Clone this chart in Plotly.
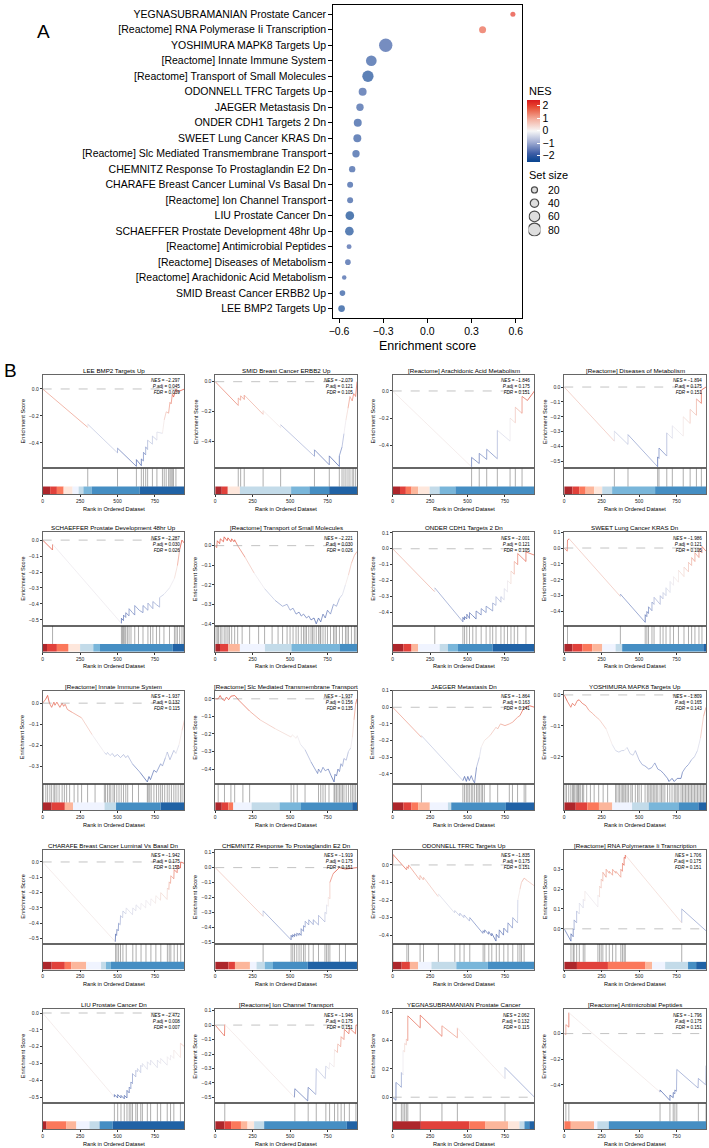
import plotly.graph_objects as go
from plotly.colors import sample_colorscale

W, H = 709, 1148
FONT = "Liberation Sans, Arial, Helvetica, sans-serif"

# %% Panel A data (top to bottom)
dot_terms = [
    "YEGNASUBRAMANIAN Prostate Cancer",
    "[Reactome] RNA Polymerase Ii Transcription",
    "YOSHIMURA MAPK8 Targets Up",
    "[Reactome] Innate Immune System",
    "[Reactome] Transport of Small Molecules",
    "ODONNELL TFRC Targets Up",
    "JAEGER Metastasis Dn",
    "ONDER CDH1 Targets 2 Dn",
    "SWEET Lung Cancer KRAS Dn",
    "[Reactome] Slc Mediated Transmembrane Transport",
    "CHEMNITZ Response To Prostaglandin E2 Dn",
    "CHARAFE Breast Cancer Luminal Vs Basal Dn",
    "[Reactome] Ion Channel Transport",
    "LIU Prostate Cancer Dn",
    "SCHAEFFER Prostate Development 48hr Up",
    "[Reactome] Antimicrobial Peptides",
    "[Reactome] Diseases of Metabolism",
    "[Reactome] Arachidonic Acid Metabolism",
    "SMID Breast Cancer ERBB2 Up",
    "LEE BMP2 Targets Up",
]
dot_es = [0.581, 0.375, -0.283, -0.381, -0.404, -0.44, -0.458, -0.473, -0.476, -0.485,
          -0.511, -0.525, -0.525, -0.527, -0.53, -0.532, -0.54, -0.565, -0.577, -0.583]
dot_nes = [2.062, 1.706, -1.809, -1.937, -2.221, -1.835, -1.864, -2.001, -1.986, -1.937,
           -1.919, -1.942, -1.946, -2.472, -2.287, -1.796, -1.894, -1.846, -2.079, -2.297]
dot_size = [11, 28, 83, 60, 65, 36, 31, 36, 36, 31, 22, 19, 19, 42, 42, 10, 16, 6, 16, 25]
size_keys = [20, 40, 60, 80]

# %% Panel B data: running enrichment score, hits, rank colour blocks
lee_x = [0, 301, 301, 500, 500, 626, 626, 659, 659, 673, 673, 688, 688, 701, 701, 733, 733, 763, 763, 800, 812, 825, 841, 850, 858, 866, 874, 890, 905, 947]
lee_y = [0, -0.285, -0.262, -0.475, -0.44, -0.575, -0.525, -0.57, -0.52, -0.535, -0.47, -0.49, -0.43, -0.45, -0.38, -0.41, -0.35, -0.38, -0.32, -0.33, -0.23, -0.17, -0.18, -0.1, -0.11, -0.04, -0.06, 0.0, -0.02, 0.0]
lee_hits = [301, 500, 626, 659, 673, 688, 701, 733, 763, 800, 812, 825, 841, 850, 858, 866, 874, 890, 947]
lee_edges = [0, 50, 95, 140, 200, 240, 272, 327, 648, 947]
lee_cols = [9, 8, 7, 5, 4, 3, 2, 1, 0]

smid_x = [0, 154, 154, 170, 170, 194, 194, 320, 320, 437, 437, 663, 663, 762, 762, 829, 829, 847, 860, 873, 887, 900, 915, 925, 938, 947]
smid_y = [0, -0.16, -0.11, -0.125, -0.095, -0.12, -0.09, -0.22, -0.195, -0.31, -0.29, -0.503, -0.459, -0.56, -0.5, -0.571, -0.5, -0.44, -0.35, -0.26, -0.18, -0.1, -0.13, -0.08, -0.1, 0.0]
smid_hits = [154, 170, 194, 320, 437, 663, 762, 829, 847, 860, 873, 887, 900, 915, 925, 938]
smid_edges = [0, 44, 84, 165, 507, 629, 761, 947]
smid_cols = [9, 8, 5, 3, 2, 1, 0]

ara_x = [0, 527, 527, 578, 578, 628, 628, 699, 699, 784, 784, 819, 819, 864, 864, 900, 947]
ara_y = [0, -0.56, -0.49, -0.535, -0.46, -0.505, -0.43, -0.5, -0.29, -0.37, -0.2, -0.235, -0.12, -0.165, -0.04, -0.07, 0.0]
ara_hits = [527, 578, 628, 699, 784, 819, 864]
ara_edges = [0, 49, 88, 126, 170, 247, 313, 419, 947]
ara_cols = [9, 8, 7, 6, 5, 3, 2, 1]

dis_x = [0, 335, 335, 426, 426, 624, 624, 633, 633, 685, 685, 722, 722, 795, 795, 841, 841, 883, 883, 916, 916, 947]
dis_y = [0, -0.364, -0.297, -0.386, -0.32, -0.536, -0.47, -0.48, -0.41, -0.464, -0.308, -0.345, -0.26, -0.33, -0.2, -0.245, -0.15, -0.19, -0.08, -0.11, -0.02, 0.0]
dis_hits = [335, 426, 624, 633, 685, 722, 795, 841, 883, 916]
dis_edges = [0, 55, 100, 143, 200, 254, 320, 607, 947]
dis_cols = [9, 8, 7, 6, 5, 3, 2, 1]

sch_x = [0, 66, 66, 526, 526, 540, 540, 555, 555, 577, 577, 600, 615, 615, 645, 670, 670, 703, 703, 736, 736, 760, 781, 781, 810, 847, 880, 900, 915, 930, 947]
sch_y = [0, -0.062, -0.025, -0.522, -0.49, -0.505, -0.47, -0.485, -0.455, -0.475, -0.43, -0.455, -0.47, -0.41, -0.44, -0.455, -0.41, -0.44, -0.395, -0.43, -0.385, -0.405, -0.42, -0.36, -0.34, -0.30, -0.24, -0.16, -0.06, 0.0, -0.02]
sch_hits = [66, 526, 533, 540, 548, 555, 566, 577, 590, 615, 640, 670, 703, 720, 736, 760, 781, 810, 847, 880, 890, 900, 915, 930, 940]
sch_edges = [0, 29, 95, 173, 250, 338, 383, 869, 947]
sch_cols = [9, 8, 7, 5, 3, 2, 1, 0]

tra_x = [0, 10, 14, 30, 34, 55, 60, 80, 85, 105, 110, 125, 130, 150, 200, 260, 330, 400, 450, 480,
         500, 520, 540, 560, 575, 590, 610, 625, 640, 660, 675, 690, 705, 720, 735, 750, 770, 790, 810, 830,
         850, 870, 890, 910, 930, 947]
tra_y = [0, -0.01, 0.025, 0.01, 0.035, 0.02, 0.045, 0.025, 0.04, 0.02, 0.035, 0.02, 0.03, 0.0, -0.06, -0.14, -0.22, -0.28, -0.31, -0.30,
         -0.33, -0.32, -0.35, -0.34, -0.36, -0.35, -0.37, -0.36, -0.38, -0.37, -0.40, -0.37, -0.39, -0.35, -0.37, -0.33, -0.35, -0.30, -0.31, -0.27,
         -0.25, -0.2, -0.15, -0.09, -0.05, -0.03]
tra_hits = [5, 14, 22, 34, 45, 60, 72, 85, 95, 110, 130, 150, 180, 230, 290, 330, 380, 420, 450, 480, 500, 520, 540, 555, 575,
            590, 600, 610, 625, 640, 650, 660, 675, 690, 700, 705, 720, 735, 750, 770, 790, 800, 810, 830, 850, 870, 880, 890, 910, 930, 940]
tra_edges = [0, 32, 88, 165, 332, 509, 830, 947]
tra_cols = [9, 8, 6, 4, 3, 2, 1]

ond_x = [0, 281, 281, 469, 469, 480, 480, 495, 495, 513, 513, 535, 557, 557, 591, 591, 624, 624, 668, 668,
         690, 690, 723, 723, 745, 745, 767, 767, 790, 790, 812, 812, 835, 835, 890, 890, 947]
ond_y = [0, -0.27, -0.245, -0.458, -0.43, -0.445, -0.425, -0.44, -0.41, -0.437, -0.40, -0.42, -0.44, -0.39, -0.415, -0.375, -0.40, -0.36, -0.39, -0.34,
         -0.355, -0.30, -0.335, -0.30, -0.32, -0.25, -0.27, -0.2, -0.22, -0.14, -0.16, -0.08, -0.1, -0.03, -0.08, -0.02, -0.04]
ond_hits = [281, 469, 480, 495, 513, 535, 557, 591, 624, 650, 668, 690, 723, 745, 767, 790, 812, 835, 890]
ond_edges = [0, 71, 126, 170, 314, 369, 436, 668, 947]
ond_cols = [9, 8, 6, 4, 3, 2, 1, 0]

swe_x = [0, 20, 22, 33, 375, 375, 541, 541, 552, 552, 563, 563, 586, 586, 600, 600, 641, 641, 660, 660,
         680, 680, 707, 707, 730, 730, 763, 763, 800, 800, 830, 830, 851, 851, 873, 873, 900, 900, 920, 920, 947]
swe_y = [0, -0.02, 0.05, 0.058, -0.305, -0.29, -0.468, -0.42, -0.432, -0.40, -0.412, -0.37, -0.395, -0.34, -0.355, -0.31, -0.355, -0.30, -0.32, -0.28,
         -0.30, -0.25, -0.28, -0.21, -0.235, -0.18, -0.215, -0.14, -0.18, -0.12, -0.15, -0.09, -0.11, -0.06, -0.085, -0.03, -0.06, -0.01, -0.03, 0.01, -0.02]
swe_hits = [22, 375, 541, 552, 563, 586, 600, 641, 660, 680, 707, 730, 763, 800, 830, 851, 873, 900, 920]
swe_edges = [0, 55, 122, 188, 254, 343, 387, 929, 947]
swe_cols = [9, 8, 7, 6, 4, 3, 1, 0]

inn_x = [0, 21, 33, 45, 60, 75, 82, 95, 115, 130, 140, 150, 165, 200, 260, 330, 412, 425, 433, 450,
         465, 480, 500, 520, 540, 555, 568, 600, 650, 699, 710, 720, 743, 760, 788, 800, 820, 832, 850, 876,
         890, 910, 931, 947]
inn_y = [0, 0.02, 0.037, 0.0, -0.02, 0.005, -0.01, 0.005, -0.02, 0.0, -0.015, -0.005, -0.03, -0.045, -0.07, -0.15, -0.235, -0.245, -0.235, -0.25,
         -0.24, -0.255, -0.245, -0.26, -0.245, -0.26, -0.25, -0.29, -0.33, -0.376, -0.35, -0.365, -0.32, -0.33, -0.289, -0.3, -0.26, -0.233, -0.27, -0.225,
         -0.24, -0.2, -0.13, -0.08]
inn_hits = [5, 21, 33, 48, 60, 75, 82, 95, 110, 130, 145, 160, 180, 210, 235, 260, 300, 350, 412, 420, 433, 445, 455, 470, 480, 495,
            510, 525, 540, 555, 568, 600, 640, 699, 705, 715, 725, 743, 760, 775, 788, 800, 815, 832, 845, 860, 876, 890, 905, 920, 931, 945]
inn_edges = [0, 60, 148, 203, 413, 490, 788, 947]
inn_cols = [9, 8, 6, 4, 3, 1, 0]

slc_x = [0, 20, 33, 45, 62, 75, 90, 105, 130, 140, 160, 230, 300, 400, 507, 515, 540, 548, 570, 600,
         640, 684, 690, 705, 720, 735, 755, 775, 794, 800, 810, 820, 830, 840, 850, 860, 875, 890, 905, 916,
         927, 938, 947]
slc_y = [0, 0.0, 0.019, 0.0, -0.01, 0.01, -0.005, 0.015, 0.019, 0.01, -0.01, -0.07, -0.12, -0.17, -0.218, -0.205, -0.225, -0.21, -0.26, -0.29,
         -0.36, -0.426, -0.40, -0.42, -0.39, -0.41, -0.40, -0.44, -0.474, -0.43, -0.44, -0.40, -0.415, -0.37, -0.385, -0.34, -0.35, -0.30, -0.28, -0.22,
         -0.12, -0.03, 0.0]
slc_hits = [20, 62, 105, 130, 185, 230, 507, 525, 548, 600, 690, 705, 720, 735, 760, 794, 800, 810, 820, 830, 840, 850, 860, 875, 890, 905, 916, 927, 938]
slc_edges = [0, 44, 88, 121, 243, 430, 573, 915, 947]
slc_cols = [9, 8, 7, 4, 3, 2, 1, 0]

jae_x = [0, 192, 192, 469, 480, 492, 502, 512, 525, 535, 547, 560, 579, 591, 612, 650, 690, 701, 720, 750,
         779, 800, 834, 850, 878, 889, 912, 947]
jae_y = [0, -0.18, -0.17, -0.44, -0.415, -0.445, -0.415, -0.44, -0.41, -0.435, -0.454, -0.36, -0.3, -0.24, -0.2, -0.17, -0.12, -0.13, -0.1, -0.11,
         -0.1, -0.09, -0.06, -0.05, 0.0, 0.0, 0.01, 0.0]
jae_hits = [192, 469, 480, 492, 502, 512, 525, 535, 547, 560, 570, 579, 591, 600, 612, 650, 701, 779, 800, 834, 878, 889]
jae_edges = [0, 71, 126, 170, 248, 369, 391, 756, 947]
jae_cols = [9, 8, 7, 6, 4, 3, 1, 0]

yos_x = [0, 20, 44, 55, 70, 88, 100, 120, 145, 165, 190, 210, 235, 280, 320, 343, 365, 385, 400, 420,
         440, 460, 475, 500, 520, 540, 565, 585, 605, 625, 645, 665, 690, 700, 720, 735, 755, 780, 790, 810,
         830, 850, 870, 890, 910, 930, 947]
yos_y = [0, -0.02, -0.04, -0.027, -0.035, -0.018, -0.016, -0.027, -0.035, -0.05, -0.06, -0.07, -0.08, -0.11, -0.16, -0.18, -0.185, -0.18, -0.18, -0.17,
         -0.19, -0.195, -0.18, -0.21, -0.225, -0.23, -0.24, -0.235, -0.22, -0.24, -0.245, -0.255, -0.27, -0.28, -0.27, -0.28, -0.27, -0.27, -0.25, -0.235,
         -0.225, -0.21, -0.2, -0.18, -0.14, -0.07, -0.04]
yos_hits = [5, 15, 30, 44, 55, 62, 70, 80, 88, 95, 100, 110, 122, 130, 150, 175, 200, 230, 260, 290, 343, 352, 365, 372, 385, 392, 400,
            410, 420, 430, 445, 455, 475, 490, 500, 515, 540, 555, 565, 575, 585, 595, 605, 615, 625, 640, 650, 660, 672, 690, 705,
            720, 735, 745, 755, 765, 780, 790, 800, 810, 820, 830, 840, 850, 860, 870, 880, 890, 900, 910, 920, 930, 940]
yos_edges = [0, 77, 154, 232, 321, 453, 564, 763, 896, 947]
yos_cols = [9, 8, 7, 6, 4, 3, 2, 1, 0]

cha_x = [0, 485, 487, 494, 496, 505, 507, 518, 520, 534, 536, 556, 558, 600, 602, 622, 624, 655, 657, 688,
         690, 721, 723, 754, 756, 787, 789, 831, 833, 843, 845, 854, 856, 876, 878, 898, 900, 920, 922, 947]
cha_y = [0, -0.521, -0.47, -0.48, -0.44, -0.45, -0.40, -0.41, -0.35, -0.365, -0.32, -0.34, -0.30, -0.345, -0.30, -0.32, -0.28, -0.31, -0.27, -0.30,
         -0.25, -0.285, -0.24, -0.27, -0.22, -0.25, -0.2, -0.245, -0.17, -0.18, -0.13, -0.14, -0.09, -0.11, -0.05, -0.07, -0.02, -0.04, 0.0, -0.01]
cha_hits = [487, 496, 507, 520, 536, 558, 602, 624, 657, 690, 723, 756, 789, 833, 845, 856, 878, 900, 922]
cha_edges = [0, 60, 148, 192, 291, 390, 423, 456, 947]
cha_cols = [9, 8, 7, 6, 4, 3, 2, 1]

che_x = [0, 320, 320, 507, 507, 518, 518, 530, 530, 545, 545, 560, 560, 574, 574, 590, 590, 601, 601, 625,
         625, 655, 655, 690, 690, 733, 733, 744, 744, 755, 755, 766, 766, 788, 830, 870, 947]
che_y = [0, -0.327, -0.29, -0.485, -0.455, -0.467, -0.45, -0.463, -0.445, -0.46, -0.44, -0.455, -0.44, -0.455, -0.41, -0.428, -0.39, -0.40, -0.36, -0.385,
         -0.35, -0.383, -0.35, -0.385, -0.32, -0.365, -0.30, -0.31, -0.25, -0.26, -0.2, -0.21, -0.1, -0.04, 0.0, -0.01, 0.0]
che_hits = [320, 507, 518, 530, 545, 560, 574, 590, 601, 625, 655, 690, 733, 744, 755, 766, 830, 870]
che_edges = [0, 88, 132, 232, 276, 331, 386, 618, 947]
che_cols = [9, 8, 6, 4, 3, 2, 1, 0]

odo_x = [0, 2, 93, 95, 104, 106, 181, 183, 204, 206, 303, 305, 413, 415, 447, 449, 475, 477, 513, 515,
         602, 604, 613, 615, 640, 642, 660, 662, 690, 692, 710, 712, 740, 742, 768, 770, 800, 802, 834, 836,
         850, 860, 878, 900, 947]
odo_y = [0, 0.06, -0.028, -0.01, -0.02, 0.0, -0.085, -0.06, -0.085, -0.07, -0.18, -0.165, -0.273, -0.26, -0.29, -0.275, -0.30, -0.285, -0.32, -0.30,
         -0.39, -0.375, -0.385, -0.37, -0.395, -0.38, -0.405, -0.39, -0.434, -0.395, -0.415, -0.37, -0.40, -0.36, -0.385, -0.33, -0.36, -0.30, -0.33, -0.2,
         -0.14, -0.1, -0.075, -0.09, -0.12]
odo_hits = [2, 95, 106, 183, 206, 305, 415, 449, 477, 515, 604, 615, 642, 662, 692, 712, 742, 770, 802, 836, 850, 860, 878]
odo_edges = [0, 60, 115, 170, 259, 425, 635, 947]
odo_cols = [9, 8, 6, 4, 3, 2, 1]

rna_x = [0, 45, 45, 60, 60, 66, 66, 83, 83, 101, 101, 127, 127, 138, 138, 225, 225, 236, 236, 247,
         247, 258, 258, 280, 280, 301, 301, 323, 323, 345, 345, 378, 378, 389, 389, 400, 400, 408, 408, 785,
         785, 947]
rna_y = [0, -0.062, -0.025, -0.04, 0.0, -0.005, 0.045, 0.03, 0.09, 0.075, 0.13, 0.105, 0.15, 0.14, 0.19, 0.11, 0.17, 0.16, 0.215, 0.205,
         0.25, 0.24, 0.285, 0.26, 0.30, 0.28, 0.29, 0.27, 0.30, 0.28, 0.29, 0.26, 0.30, 0.29, 0.33, 0.32, 0.36, 0.355, 0.372, 0.03,
         0.1, -0.01]
rna_hits = [45, 60, 66, 83, 101, 127, 138, 225, 236, 247, 258, 280, 301, 323, 345, 378, 389, 400, 408, 785]
rna_edges = [0, 85, 292, 543, 587, 674, 827, 881, 947]
rna_cols = [9, 8, 7, 6, 4, 3, 1, 0]

liu_x = [0, 479, 479, 501, 501, 523, 523, 545, 545, 563, 563, 578, 578, 589, 589, 600, 600, 622, 622, 633,
         633, 655, 655, 666, 666, 699, 699, 721, 721, 766, 766, 788, 788, 832, 832, 854, 854, 876, 876, 920,
         920, 947]
liu_y = [0, -0.5, -0.485, -0.505, -0.485, -0.505, -0.49, -0.51, -0.49, -0.505, -0.46, -0.475, -0.44, -0.45, -0.41, -0.42, -0.36, -0.38, -0.34, -0.35,
         -0.33, -0.355, -0.31, -0.32, -0.30, -0.335, -0.29, -0.31, -0.28, -0.325, -0.28, -0.30, -0.27, -0.31, -0.26, -0.28, -0.25, -0.27, -0.22, -0.265,
         -0.18, -0.2]
liu_hits = [479, 501, 523, 545, 563, 578, 589, 600, 622, 633, 655, 666, 699, 721, 766, 788, 832, 854, 876, 920]
liu_edges = [0, 26, 159, 225, 313, 380, 468, 947]
liu_cols = [9, 7, 6, 4, 3, 1, 0]

ion_x = [0, 62, 64, 529, 532, 618, 621, 672, 675, 735, 739, 761, 764, 794, 797, 816, 819, 838, 841, 860,
         863, 893, 896, 937, 940, 947]
ion_y = [0, -0.075, 0.005, -0.5, -0.44, -0.525, -0.43, -0.48, -0.30, -0.37, -0.283, -0.305, -0.26, -0.29, -0.17, -0.19, -0.13, -0.15, -0.08, -0.1,
         -0.03, -0.06, -0.02, -0.06, 0.0, 0.0]
ion_hits = [64, 532, 621, 675, 739, 764, 797, 819, 841, 863, 896, 940]
ion_edges = [0, 62, 106, 172, 216, 260, 327, 879, 947]
ion_cols = [9, 8, 7, 6, 5, 3, 1, 0]

yeg_x = [0, 22, 22, 50, 58, 58, 65, 69, 69, 80, 80, 91, 91, 101, 101, 184, 184, 329, 329, 432, 432, 750, 750, 947]
yeg_y = [0, -0.022, 0.105, 0.08, 0.07, 0.175, 0.165, 0.16, 0.33, 0.32, 0.38, 0.37, 0.41, 0.4, 0.575, 0.49, 0.58, 0.43, 0.505, 0.42, 0.49, 0.13, 0.21, 0.0]
yeg_hits = [22, 58, 69, 80, 91, 101, 184, 329, 432, 750, 947]
yeg_edges = [0, 188, 512, 620, 772, 847, 880, 912, 947]
yeg_cols = [9, 8, 7, 6, 5, 3, 1, 0]

ant_x = [0, 11, 11, 31, 31, 640, 640, 706, 706, 728, 728, 739, 739, 750, 752, 894, 896, 945, 947]
ant_y = [0, -0.01, 0.07, 0.05, 0.163, -0.457, -0.44, -0.522, -0.48, -0.5, -0.46, -0.47, -0.44, -0.45, -0.28, -0.425, -0.35, -0.4, -0.25]
ant_hits = [11, 31, 640, 706, 728, 739, 752, 896, 947]
ant_edges = [0, 44, 199, 221, 298, 947]
ant_cols = [7, 6, 4, 3, 1]

panel_titles = [
    "LEE BMP2 Targets Up", "SMID Breast Cancer ERBB2 Up",
    "[Reactome] Arachidonic Acid Metabolism", "[Reactome] Diseases of Metabolism",
    "SCHAEFFER Prostate Development 48hr Up", "[Reactome] Transport of Small Molecules",
    "ONDER CDH1 Targets 2 Dn", "SWEET Lung Cancer KRAS Dn",
    "[Reactome] Innate Immune System", "[Reactome] Slc Mediated Transmembrane Transport",
    "JAEGER Metastasis Dn", "YOSHIMURA MAPK8 Targets Up",
    "CHARAFE Breast Cancer Luminal Vs Basal Dn", "CHEMNITZ Response To Prostaglandin E2 Dn",
    "ODONNELL TFRC Targets Up", "[Reactome] RNA Polymerase Ii Transcription",
    "LIU Prostate Cancer Dn", "[Reactome] Ion Channel Transport",
    "YEGNASUBRAMANIAN Prostate Cancer", "[Reactome] Antimicrobial Peptides",
]
panel_nes = [-2.297, -2.079, -1.846, -1.894, -2.287, -2.221, -2.001, -1.986, -1.937, -1.937,
             -1.864, -1.809, -1.942, -1.919, -1.835, 1.706, -2.472, -1.946, 2.062, -1.796]
panel_padj = [0.045, 0.121, 0.175, 0.175, 0.030, 0.030, 0.121, 0.121, 0.132, 0.156,
              0.163, 0.165, 0.175, 0.175, 0.175, 0.175, 0.008, 0.175, 0.132, 0.175]
panel_fdr = [0.039, 0.105, 0.151, 0.151, 0.026, 0.026, 0.105, 0.105, 0.115, 0.135,
             0.141, 0.143, 0.151, 0.151, 0.151, 0.151, 0.007, 0.151, 0.115, 0.151]

curves = [(lee_x, lee_y), (smid_x, smid_y), (ara_x, ara_y), (dis_x, dis_y),
          (sch_x, sch_y), (tra_x, tra_y), (ond_x, ond_y), (swe_x, swe_y),
          (inn_x, inn_y), (slc_x, slc_y), (jae_x, jae_y), (yos_x, yos_y),
          (cha_x, cha_y), (che_x, che_y), (odo_x, odo_y), (rna_x, rna_y),
          (liu_x, liu_y), (ion_x, ion_y), (yeg_x, yeg_y), (ant_x, ant_y)]
hits = [lee_hits, smid_hits, ara_hits, dis_hits, sch_hits, tra_hits, ond_hits, swe_hits,
        inn_hits, slc_hits, jae_hits, yos_hits, cha_hits, che_hits, odo_hits, rna_hits,
        liu_hits, ion_hits, yeg_hits, ant_hits]
blocks = [(lee_edges, lee_cols), (smid_edges, smid_cols), (ara_edges, ara_cols), (dis_edges, dis_cols),
          (sch_edges, sch_cols), (tra_edges, tra_cols), (ond_edges, ond_cols), (swe_edges, swe_cols),
          (inn_edges, inn_cols), (slc_edges, slc_cols), (jae_edges, jae_cols), (yos_edges, yos_cols),
          (cha_edges, cha_cols), (che_edges, che_cols), (odo_edges, odo_cols), (rna_edges, rna_cols),
          (liu_edges, liu_cols), (ion_edges, ion_cols), (yeg_edges, yeg_cols), (ant_edges, ant_cols)]

# axis ranges of the score panels
y_lo = [-0.59, -0.584, -0.571, -0.547, -0.5375, -0.41, -0.483, -0.49, -0.387, -0.487,
        -0.462, -0.289, -0.534, -0.511, -0.449, -0.075, -0.536, -0.54, -0.042, -0.543]
y_hi = [0.106, 0.047, 0.12, 0.083, 0.05, 0.069, 0.104, 0.1, 0.06, 0.047,
        0.1, 0.014, 0.078, 0.118, 0.085, 0.397, 0.021, 0.108, 0.62, 0.188]
y_step = [0.2, 0.2, 0.2, 0.1, 0.1, 0.1, 0.1, 0.1, 0.1, 0.1,
          0.1, 0.1, 0.1, 0.1, 0.1, 0.1, 0.1, 0.1, 0.2, 0.2]
N_RANK = 947

for (cx, cy) in curves:
    assert len(cx) == len(cy)
for (e, c) in blocks:
    assert len(e) == len(c) + 1

# %% styling
nes_scale = [[0, "#0a4590"], [0.05, "#184c97"], [0.14, "#3f5ea6"], [0.32, "#a3afd4"],
             [0.5, "#f7f7f7"], [0.68, "#f4b3a3"], [0.86, "#e85a40"], [0.92, "#e53a2b"],
             [1, "#d7191c"]]
es_scale = [[0, "#4a63ab"], [0.2, "#8d9dcc"], [0.45, "#ebe9f0"], [0.55, "#f3e6e3"],
            [0.8, "#ec9a88"], [1, "#e0452f"]]
bar_pal = ["#08519C", "#3182BD", "#6BAED6", "#BDD7E7", "#EFF3FF",
           "#FEE5D9", "#FCAE91", "#FB6A4A", "#DE2D26", "#A50F15"]


def fx(p):
    return p / W


def fy(p):
    return 1 - p / H


def dot_px(s):
    return 3.8 + 0.115 * s


def fmt(v):
    return f"{v:.3f}".replace("-", "\u2212")


def note(text, x, y, size, **kw):
    d = dict(text=text, x=x, y=y, xref="paper", yref="paper", xanchor="center",
             yanchor="middle", showarrow=False, font=dict(size=size))
    d.update(kw)
    return d


fig = go.Figure()
layout = {}
annotations = []
shapes = []

# %% Panel A
fig.add_trace(go.Scatter(
    x=dot_es, y=dot_terms, mode="markers", showlegend=False, hoverinfo="skip",
    marker=dict(size=[dot_px(s) for s in dot_size], color=dot_nes, colorscale=nes_scale,
                cmin=-2.472, cmax=2.472, line=dict(width=0),
                colorbar=dict(x=fx(527), xanchor="left", y=fy(128), yanchor="middle",
                              len=62, lenmode="pixels", thickness=13, thicknessmode="pixels",
                              tickvals=[-2, -1, 0, 1, 2], tickfont=dict(size=10.5),
                              ticks="inside", ticklen=3, tickcolor="white",
                              outlinewidth=0, xpad=0, ypad=0)),
))
layout["xaxis"] = dict(domain=[fx(332), fx(522)], range=[-0.64, 0.64],
                       tickvals=[-0.6, -0.3, 0, 0.3, 0.6], tickformat=".1f",
                       ticks="outside", ticklen=4, tickwidth=1, tickcolor="black",
                       showline=True, mirror=True, linecolor="black", linewidth=1,
                       showgrid=False, zeroline=False, tickfont=dict(size=10.5), anchor="y")
layout["yaxis"] = dict(domain=[fy(316), fy(2)], type="category", categoryorder="array",
                       categoryarray=dot_terms, range=[19.6, -0.6],
                       ticks="outside", ticklen=4, tickwidth=1, tickcolor="black",
                       showline=True, mirror=True, linecolor="black", linewidth=1,
                       showgrid=False, zeroline=False, tickfont=dict(size=10.5), anchor="x")
annotations.append(note("Enrichment score", fx(427), fy(344), 12.5))
annotations.append(note("A", fx(40), fy(29), 19))
annotations.append(note("B", fx(7), fy(369), 19))
annotations.append(note("NES", fx(527), fy(88), 11, xanchor="left"))

# set size key
fig.add_trace(go.Scatter(
    x=[0] * len(size_keys), y=list(range(len(size_keys))), mode="markers", showlegend=False,
    hoverinfo="skip", xaxis="x42", yaxis="y42",
    marker=dict(size=[dot_px(s) for s in size_keys], color="#d0d0d0",
                line=dict(color="black", width=1.2)),
))
layout["xaxis42"] = dict(domain=[fx(529), fx(541)], range=[-1, 1], visible=False, anchor="y42")
layout["yaxis42"] = dict(domain=[fy(234), fy(181)], range=[3.5, -0.5], visible=False, anchor="x42")
for i, s in enumerate(size_keys):
    annotations.append(dict(text=str(s), x=1, y=i, xref="x42", yref="y42", xanchor="left",
                            yanchor="middle", xshift=6, showarrow=False, font=dict(size=10.5)))
annotations.append(note("Set size", fx(527), fy(173), 11, xanchor="left"))

# %% Panel B
ROW_TOP = [373, 531, 690, 850, 1010]
COL_LEFT = [39, 213, 392, 565]
PW, MAIN_H, LOW_H = 143, 94, 26
NBIN = 16
tick_style = dict(ticks="outside", ticklen=2, tickwidth=0.5, tickcolor="#333",
                  tickfont=dict(size=5, color="#222"))
box_style = dict(showline=True, mirror=True, linecolor="#666", linewidth=0.7,
                 showgrid=False, zeroline=False)

for k in range(20):
    r, c = divmod(k, 4)
    top, left = ROW_TOP[r], COL_LEFT[c]
    mi, li = 2 + 2 * k, 3 + 2 * k
    xm, ym, xl, yl = f"x{mi}", f"y{mi}", f"x{li}", f"y{li}"
    xs, ys = curves[k]

    # running score, coloured by its own value
    lo, hi = min(ys), max(ys)
    groups = {}
    for i in range(len(xs) - 1):
        t = ((ys[i] + ys[i + 1]) / 2 - lo) / (hi - lo)
        b = min(NBIN - 1, int(t * NBIN))
        gx, gy = groups.setdefault(b, ([], []))
        gx += [xs[i], xs[i + 1], None]
        gy += [ys[i], ys[i + 1], None]
    for b, (gx, gy) in groups.items():
        col = sample_colorscale(es_scale, (b + 0.5) / NBIN)[0]
        fig.add_trace(go.Scatter(x=gx, y=gy, mode="lines", line=dict(color=col, width=0.75),
                                 xaxis=xm, yaxis=ym, showlegend=False, hoverinfo="skip"))

    # gene hits
    hx, hy = [], []
    for h in hits[k]:
        hx += [h, h, None]
        hy += [0.3, 1, None]
    fig.add_trace(go.Scatter(x=hx, y=hy, mode="lines", line=dict(color="rgba(30,30,30,0.6)", width=0.6),
                             xaxis=xl, yaxis=yl, showlegend=False, hoverinfo="skip"))

    # ranked list colour blocks
    edges, cols = blocks[k]
    fig.add_trace(go.Bar(x=edges[:-1], y=[0.3] * len(cols), base=0, offset=0,
                         width=[edges[i + 1] - edges[i] for i in range(len(cols))],
                         marker=dict(color=[bar_pal[j] for j in cols], line=dict(width=0)),
                         opacity=0.9, xaxis=xl, yaxis=yl, showlegend=False, hoverinfo="skip"))

    layout[f"xaxis{mi}"] = dict(domain=[fx(left), fx(left + PW)], range=[0, N_RANK],
                                showticklabels=False, ticks="", anchor=ym, **box_style)
    layout[f"yaxis{mi}"] = dict(domain=[fy(top + MAIN_H), fy(top)], range=[y_lo[k], y_hi[k]],
                                dtick=y_step[k], tick0=0, tickformat=".1f", anchor=xm,
                                **tick_style, **box_style)
    layout[f"xaxis{li}"] = dict(domain=[fx(left), fx(left + PW)], range=[0, N_RANK],
                                tickvals=[0, 250, 500, 750], anchor=yl, **tick_style, **box_style)
    layout[f"yaxis{li}"] = dict(domain=[fy(top + MAIN_H + LOW_H), fy(top + MAIN_H)], range=[0, 1],
                                showticklabels=False, ticks="", anchor=xl, **box_style)

    shapes.append(dict(type="line", xref=xm, yref=ym, x0=0, x1=N_RANK, y0=0, y1=0,
                       line=dict(color="#9a9a9a", width=0.6, dash="dash")))

    annotations.append(note(panel_titles[k], fx(left + PW / 2), fy(top - 4.5), 6.2))
    annotations.append(note("Enrichment Score", fx(left - 20), fy(top + MAIN_H / 2), 5.6,
                            textangle=-90))
    annotations.append(note("Rank in Ordered Dataset", fx(left + PW / 2),
                            fy(top + MAIN_H + LOW_H + 14.5), 5.6))
    annotations.append(dict(
        text=f"<i>NES</i> = {fmt(panel_nes[k])}<br><i>P</i>.adj = {panel_padj[k]:.3f}"
             f"<br><i>FDR</i> = {panel_fdr[k]:.3f}",
        x=0.985, y=0.985, xref=f"{xm} domain", yref=f"{ym} domain", xanchor="right",
        yanchor="top", align="right", showarrow=False, font=dict(size=4.6)))

layout.update(dict(width=W, height=H, margin=dict(l=0, r=0, t=0, b=0),
                   paper_bgcolor="white", plot_bgcolor="white",
                   font=dict(family=FONT, color="black"),
                   showlegend=False, annotations=annotations, shapes=shapes))
fig.update_layout(layout)

# the page's default body margin would shift the figure by 8px
fig.write_html("out.html", config={"displayModeBar": False},
               post_script="document.body.style.margin='0px';")
